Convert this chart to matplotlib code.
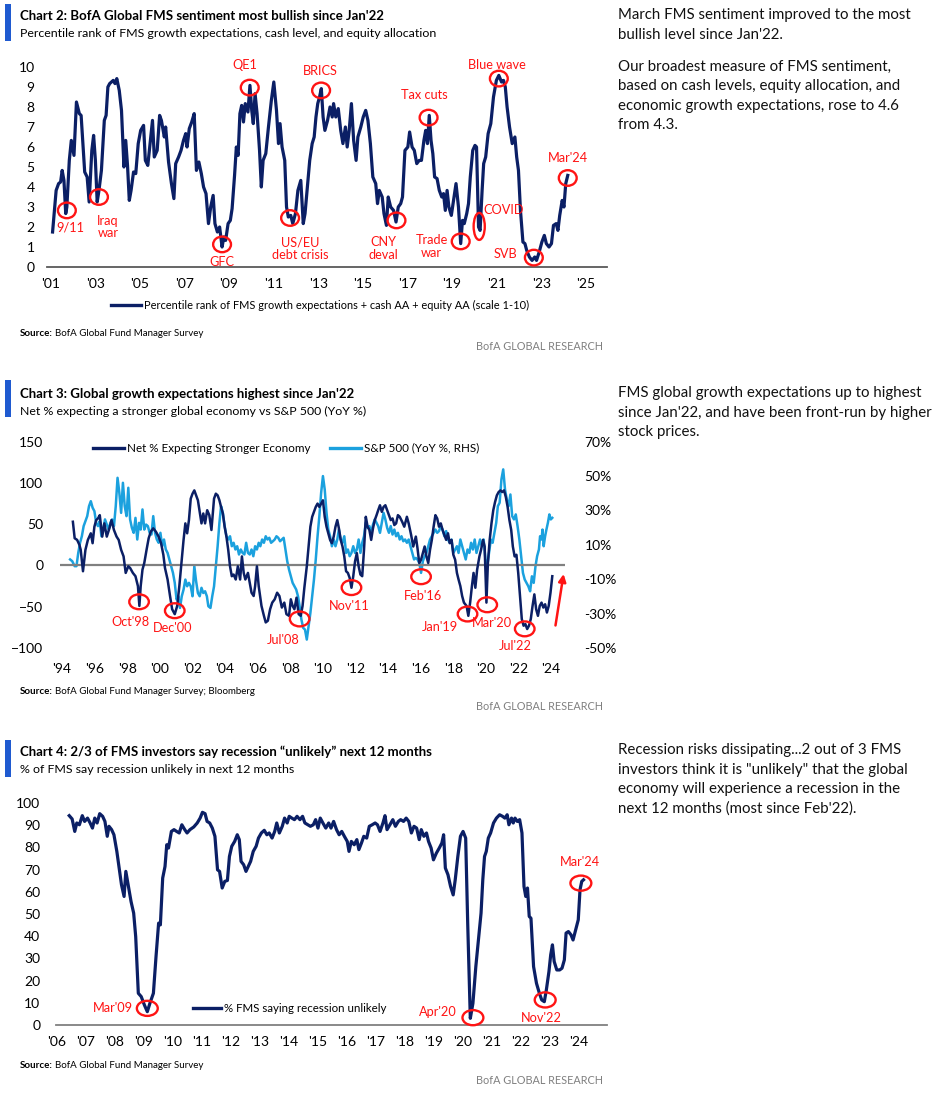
import matplotlib.pyplot as plt
from matplotlib.patches import Ellipse, Rectangle
from matplotlib.lines import Line2D

# ---------------- data ----------------
# Chart 2: FMS sentiment (scale 0-10)
sent_years = [2001.09, 2001.25, 2001.36, 2001.45, 2001.52, 2001.60, 2001.68, 2001.73, 2001.84, 2001.93,
              2002.05, 2002.16, 2002.29, 2002.37, 2002.53, 2002.64, 2002.73, 2002.85, 2002.93, 2003.01,
              2003.09, 2003.17, 2003.28, 2003.41, 2003.49, 2003.57, 2003.65, 2003.73, 2003.81, 2003.89,
              2003.97, 2004.08, 2004.18, 2004.29, 2004.37, 2004.45, 2004.53, 2004.61, 2004.72, 2004.82,
              2004.93, 2005.04, 2005.17, 2005.25, 2005.36, 2005.46, 2005.57, 2005.65, 2005.78, 2005.89,
              2005.97, 2006.10, 2006.16, 2006.29, 2006.42, 2006.53, 2006.61, 2006.74, 2006.85, 2006.96,
              2007.06, 2007.12, 2007.22, 2007.33, 2007.44, 2007.54, 2007.65, 2007.76, 2007.86, 2007.97,
              2008.08, 2008.18, 2008.29, 2008.37, 2008.48, 2008.58, 2008.69, 2008.77, 2008.85, 2008.96,
              2009.06, 2009.14, 2009.25, 2009.33, 2009.41, 2009.49, 2009.57, 2009.65, 2009.73, 2009.85,
              2009.94, 2010.02, 2010.09, 2010.17, 2010.26, 2010.37, 2010.45, 2010.53, 2010.65, 2010.77,
              2010.90, 2011.01, 2011.13, 2011.22, 2011.29, 2011.38, 2011.50, 2011.58, 2011.66, 2011.77,
              2011.86, 2011.98, 2012.09, 2012.22, 2012.33, 2012.41, 2012.50, 2012.62, 2012.73, 2012.82,
              2012.90, 2012.98, 2013.06, 2013.14, 2013.22, 2013.30, 2013.42, 2013.53, 2013.63, 2013.69,
              2013.79, 2013.90, 2014.01, 2014.11, 2014.22, 2014.30, 2014.39, 2014.49, 2014.59, 2014.70,
              2014.78, 2014.91, 2015.02, 2015.13, 2015.23, 2015.34, 2015.45, 2015.58, 2015.66, 2015.74,
              2015.87, 2015.95, 2016.06, 2016.14, 2016.25, 2016.38, 2016.49, 2016.59, 2016.70, 2016.78,
              2016.89, 2017.02, 2017.10, 2017.21, 2017.31, 2017.42, 2017.53, 2017.63, 2017.74, 2017.82,
              2017.90, 2017.98, 2018.06, 2018.14, 2018.22, 2018.33, 2018.43, 2018.54, 2018.62, 2018.70,
              2018.78, 2018.86, 2018.97, 2019.07, 2019.18, 2019.29, 2019.39, 2019.47, 2019.55, 2019.66,
              2019.74, 2019.82, 2019.93, 2020.03, 2020.10, 2020.19, 2020.26, 2020.35, 2020.42, 2020.51,
              2020.62, 2020.74, 2020.86, 2020.99, 2021.10, 2021.22, 2021.31, 2021.39, 2021.47, 2021.58,
              2021.70, 2021.82, 2021.90, 2021.98, 2022.07, 2022.18, 2022.27, 2022.35, 2022.47, 2022.59,
              2022.71, 2022.79, 2022.91, 2023.03, 2023.14, 2023.23, 2023.35, 2023.46, 2023.55, 2023.67,
              2023.75, 2023.83, 2023.94, 2024.02, 2024.10, 2024.19]
sent_vals = [1.75, 3.83, 4.17, 4.25, 4.83, 4.33, 2.67, 3.0, 5.33, 6.33,
             5.58, 8.25, 7.67, 7.58, 4.75, 4.5, 3.25, 5.83, 6.58, 5.33,
             3.25, 3.83, 4.83, 7.33, 7.58, 9.0, 9.17, 9.25, 9.33, 9.17,
             9.42, 8.83, 7.83, 5.0, 6.33, 5.08, 3.33, 3.83, 4.75, 4.67,
             6.17, 6.83, 7.08, 5.33, 5.08, 6.17, 7.33, 5.5, 5.83, 7.58,
             7.33, 6.5, 7.0, 5.25, 4.17, 3.42, 5.17, 5.5, 5.83, 6.33,
             6.67, 6.0, 6.92, 7.25, 7.67, 4.83, 5.25, 4.67, 4.0, 3.67,
             2.17, 3.0, 3.58, 2.17, 1.75, 2.0, 1.0, 1.5, 1.33, 2.17,
             2.33, 2.92, 4.58, 6.0, 5.58, 7.67, 8.08, 7.25, 8.17, 7.75,
             9.08, 7.83, 7.17, 8.67, 7.67, 5.83, 4.0, 5.33, 5.67, 7.0,
             8.33, 9.25, 7.83, 6.17, 7.17, 6.0, 5.33, 3.0, 2.5, 2.58,
             2.17, 2.67, 3.83, 4.33, 2.17, 2.67, 3.83, 5.33, 6.17, 6.5,
             7.5, 8.17, 8.5, 8.92, 7.5, 6.83, 7.33, 8.0, 7.5, 8.17,
             7.5, 7.92, 6.83, 6.17, 7.0, 6.0, 6.83, 8.17, 6.33, 5.33,
             6.5, 7.0, 7.5, 7.83, 7.33, 6.17, 4.5, 4.17, 3.17, 3.83,
             3.5, 2.67, 2.08, 3.5, 3.0, 2.83, 2.25, 3.0, 3.17, 3.5,
             5.83, 6.0, 6.75, 6.0, 5.83, 5.17, 5.33, 5.33, 6.33, 6.83,
             6.17, 7.58, 6.33, 5.67, 4.5, 4.42, 3.83, 3.5, 3.67, 2.83,
             3.83, 3.0, 2.58, 3.33, 4.17, 3.0, 1.17, 2.33, 2.17, 2.67,
             3.17, 4.5, 5.83, 6.08, 6.0, 2.0, 1.83, 3.83, 5.17, 5.5,
             6.67, 7.17, 8.5, 9.33, 9.58, 9.25, 9.33, 9.0, 8.0, 7.0,
             6.17, 6.5, 5.5, 4.83, 2.83, 1.25, 1.17, 0.83, 0.5, 0.33,
             0.5, 0.33, 0.75, 1.25, 1.58, 1.17, 1.0, 1.17, 2.08, 2.17,
             1.83, 2.58, 3.33, 3.0, 4.17, 4.58]
# label, circle x, circle y, label x, label y
sent_notes = [("9/11", 2001.73, 2.83, 2001.88, 1.97),
              ("Iraq\nwar", 2003.17, 3.5, 2003.57, 2.0),
              ("GFC", 2008.69, 1.13, 2008.69, 0.25),
              ("QE1", 2009.93, 8.97, 2009.73, 10.08),
              ("US/EU\ndebt crisis", 2011.74, 2.45, 2012.18, 0.93),
              ("BRICS", 2013.13, 8.83, 2013.10, 9.8),
              ("CNY\ndeval", 2016.51, 2.33, 2015.93, 0.93),
              ("Tax cuts", 2017.95, 7.47, 2017.74, 8.58),
              ("Trade\nwar", 2019.39, 1.28, 2018.09, 1.03),
              ("COVID", 2020.22, 2.03, 2021.31, 2.87),
              ("Blue wave", 2021.10, 9.42, 2021.02, 10.08),
              ("SVB", 2022.67, 0.47, 2021.38, 0.67),
              ("Mar'24", 2024.19, 4.45, 2024.19, 5.47)]

# Chart 3: net % expecting stronger economy (LHS) and S&P 500 YoY % (RHS)
growth_years = [1994.67, 1994.78, 1994.93, 1995.07, 1995.15, 1995.29, 1995.44, 1995.59, 1995.77, 1995.88,
                1995.99, 1996.10, 1996.21, 1996.32, 1996.47, 1996.60, 1996.75, 1996.91, 1997.04, 1997.19,
                1997.35, 1997.48, 1997.63, 1997.78, 1997.91, 1998.07, 1998.18, 1998.35, 1998.51, 1998.66,
                1998.75, 1998.83, 1998.94, 1999.05, 1999.19, 1999.32, 1999.45, 1999.60, 1999.76, 1999.93,
                2000.08, 2000.22, 2000.32, 2000.48, 2000.63, 2000.76, 2000.92, 2001.07, 2001.20, 2001.35,
                2001.46, 2001.57, 2001.68, 2001.79, 2001.90, 2002.01, 2002.12, 2002.23, 2002.34, 2002.45,
                2002.56, 2002.67, 2002.78, 2002.91, 2003.04, 2003.17, 2003.33, 2003.44, 2003.55, 2003.66,
                2003.76, 2003.87, 2003.98, 2004.09, 2004.20, 2004.31, 2004.42, 2004.53, 2004.66, 2004.79,
                2004.93, 2005.04, 2005.15, 2005.25, 2005.41, 2005.52, 2005.63, 2005.76, 2005.85, 2005.96,
                2006.07, 2006.24, 2006.39, 2006.50, 2006.63, 2006.77, 2006.90, 2007.05, 2007.20, 2007.34,
                2007.49, 2007.64, 2007.77, 2007.93, 2008.04, 2008.15, 2008.26, 2008.39, 2008.52, 2008.65,
                2008.76, 2008.87, 2009.02, 2009.13, 2009.24, 2009.35, 2009.46, 2009.57, 2009.68, 2009.79,
                2009.90, 2010.01, 2010.12, 2010.23, 2010.34, 2010.45, 2010.56, 2010.67, 2010.78, 2010.89,
                2010.99, 2011.10, 2011.21, 2011.32, 2011.43, 2011.54, 2011.65, 2011.76, 2011.87, 2011.98,
                2012.09, 2012.20, 2012.31, 2012.42, 2012.53, 2012.64, 2012.75, 2012.86, 2012.97, 2013.08,
                2013.19, 2013.30, 2013.40, 2013.51, 2013.62, 2013.73, 2013.84, 2013.95, 2014.06, 2014.17,
                2014.28, 2014.39, 2014.50, 2014.61, 2014.72, 2014.87, 2015.00, 2015.16, 2015.27, 2015.42,
                2015.55, 2015.71, 2015.81, 2015.92, 2016.03, 2016.14, 2016.25, 2016.36, 2016.47, 2016.58,
                2016.69, 2016.80, 2016.91, 2017.02, 2017.13, 2017.24, 2017.35, 2017.46, 2017.57, 2017.68,
                2017.79, 2017.90, 2018.01, 2018.12, 2018.23, 2018.33, 2018.44, 2018.55, 2018.66, 2018.82,
                2018.93, 2019.04, 2019.15, 2019.25, 2019.36, 2019.47, 2019.61, 2019.71, 2019.83, 2019.93,
                2020.04, 2020.13, 2020.24, 2020.35, 2020.46, 2020.57, 2020.68, 2020.79, 2020.90, 2021.01,
                2021.12, 2021.23, 2021.34, 2021.45, 2021.56, 2021.66, 2021.77, 2021.88, 2021.99, 2022.10,
                2022.21, 2022.32, 2022.43, 2022.54, 2022.65, 2022.76, 2022.87, 2022.98, 2023.09, 2023.20,
                2023.31, 2023.42, 2023.53, 2023.64, 2023.75, 2023.86, 2023.97, 2024.08]
growth_net = [53, 33, 31, 25, 19, -7, 19, 31, 39, 27,
              47, 55, 57, 61, 35, 51, 35, 45, 55, 43,
              35, 31, 19, 11, -9, -1, -3, -9, -13, -25,
              -49, -25, -5, 3, 19, 33, 41, 45, 41, 35,
              27, 13, -3, -17, -37, -53, -59, -49, -25, 7,
              31, 51, 39, 55, 81, 87, 91, 85, 79, 65,
              51, 63, 51, 67, 61, 43, 81, 87, 85, 79,
              71, 63, 47, 35, 19, -1, -13, -11, -17, -1,
              -17, 11, -9, -17, -9, -21, -33, -37, -25, -1,
              -25, -49, -61, -69, -67, -53, -45, -41, -33, -37,
              -51, -45, -59, -61, -41, -49, -53, -39, -59, -61,
              -49, -27, -1, 23, 47, 59, 65, 71, 75, 71,
              75, 79, 59, 47, 39, 31, 27, 35, 47, 55,
              45, 31, 23, 11, -7, -9, -15, -27, -13, 5,
              15, -1, -11, -13, 19, 59, 47, 43, 31, 45,
              55, 61, 67, 73, 65, 71, 73, 67, 61, 55,
              57, 49, 51, 61, 59, 53, 47, 59, 51, 37,
              23, 35, 21, 3, 7, 15, 23, 11, 3, 19,
              31, 47, 61, 57, 47, 51, 43, 37, 31, 39,
              27, 31, 13, 7, -9, -17, -25, -37, -45, -49,
              -61, -45, -25, -9, -27, -5, 11, 19, 31, 23,
              -45, 3, 31, 51, 67, 77, 85, 89, 91, 89,
              91, 83, 71, 55, 43, 23, 11, 13, -9, -37,
              -65, -73, -71, -77, -73, -65, -49, -35, -53, -61,
              -49, -45, -51, -47, -57, -49, -33, -13]
spx_years = [1994.50, 1994.63, 1994.78, 1994.89, 1995.00, 1995.11, 1995.22, 1995.33, 1995.44, 1995.55,
             1995.66, 1995.77, 1995.88, 1995.99, 1996.10, 1996.21, 1996.32, 1996.42, 1996.53, 1996.64,
             1996.75, 1996.86, 1996.97, 1997.08, 1997.19, 1997.30, 1997.41, 1997.52, 1997.63, 1997.74,
             1997.85, 1997.96, 1998.07, 1998.18, 1998.29, 1998.40, 1998.51, 1998.62, 1998.73, 1998.83,
             1998.94, 1999.05, 1999.16, 1999.27, 1999.38, 1999.49, 1999.60, 1999.71, 1999.82, 1999.93,
             2000.04, 2000.15, 2000.26, 2000.37, 2000.48, 2000.59, 2000.70, 2000.81, 2000.92, 2001.03,
             2001.14, 2001.24, 2001.35, 2001.46, 2001.57, 2001.68, 2001.79, 2001.90, 2002.01, 2002.12,
             2002.23, 2002.34, 2002.45, 2002.56, 2002.67, 2002.78, 2002.89, 2002.98, 2003.11, 2003.22,
             2003.33, 2003.44, 2003.55, 2003.66, 2003.76, 2003.87, 2003.98, 2004.09, 2004.20, 2004.31,
             2004.42, 2004.53, 2004.64, 2004.75, 2004.86, 2004.97, 2005.08, 2005.19, 2005.30, 2005.41,
             2005.52, 2005.63, 2005.74, 2005.85, 2005.96, 2006.07, 2006.17, 2006.28, 2006.39, 2006.50,
             2006.61, 2006.72, 2006.83, 2006.94, 2007.05, 2007.16, 2007.27, 2007.38, 2007.49, 2007.60,
             2007.71, 2007.82, 2007.93, 2008.04, 2008.15, 2008.26, 2008.37, 2008.48, 2008.58, 2008.69,
             2008.80, 2008.91, 2009.02, 2009.13, 2009.24, 2009.35, 2009.46, 2009.57, 2009.68, 2009.79,
             2009.90, 2010.01, 2010.12, 2010.23, 2010.34, 2010.45, 2010.56, 2010.67, 2010.78, 2010.89,
             2010.99, 2011.10, 2011.21, 2011.32, 2011.43, 2011.54, 2011.65, 2011.76, 2011.87, 2011.98,
             2012.09, 2012.20, 2012.31, 2012.42, 2012.53, 2012.64, 2012.75, 2012.86, 2012.97, 2013.08,
             2013.19, 2013.30, 2013.40, 2013.51, 2013.62, 2013.73, 2013.84, 2013.95, 2014.06, 2014.17,
             2014.28, 2014.39, 2014.50, 2014.61, 2014.72, 2014.83, 2014.94, 2015.05, 2015.16, 2015.27,
             2015.38, 2015.49, 2015.60, 2015.71, 2015.81, 2015.92, 2016.03, 2016.14, 2016.25, 2016.36,
             2016.47, 2016.58, 2016.69, 2016.80, 2016.91, 2017.02, 2017.13, 2017.24, 2017.35, 2017.46,
             2017.57, 2017.68, 2017.79, 2017.90, 2018.01, 2018.12, 2018.23, 2018.33, 2018.44, 2018.55,
             2018.66, 2018.77, 2018.88, 2018.99, 2019.10, 2019.21, 2019.32, 2019.43, 2019.54, 2019.65,
             2019.76, 2019.87, 2019.98, 2020.09, 2020.20, 2020.31, 2020.42, 2020.53, 2020.64, 2020.74,
             2020.85, 2020.96, 2021.07, 2021.18, 2021.29, 2021.40, 2021.51, 2021.62, 2021.73, 2021.84,
             2021.95, 2022.06, 2022.17, 2022.28, 2022.39, 2022.50, 2022.61, 2022.72, 2022.83, 2022.94,
             2023.05, 2023.15, 2023.26, 2023.33, 2023.42, 2023.48, 2023.55, 2023.64, 2023.72, 2023.81,
             2023.90, 2023.99, 2024.08]
spx_yoy = [1.5, 0.5, -2.4, -2.4, 5.3, 11.2, 15.0, 20.9, 23.8, 26.7,
           32.5, 35.4, 31.6, 29.6, 22.8, 20.9, 23.8, 15.0, 18.9, 24.8,
           21.8, 18.9, 22.8, 24.8, 20.9, 32.5, 49.0, 40.3, 28.6, 46.1,
           32.5, 26.7, 43.2, 24.8, 19.9, 17.0, 25.7, 13.1, 22.8, 18.9,
           30.6, 18.9, 21.8, 20.9, 17.0, 16.0, 26.7, 17.0, 13.1, 11.2,
           17.0, 9.2, 13.1, 7.3, 5.3, 1.5, -2.4, -6.3, -12.1, -21.8,
           -19.9, -26.7, -19.9, -16.0, -10.2, -14.1, -12.1, -14.1, -19.9, -2.4,
           -11.2, -18.0, -19.9, -15.0, -18.0, -17.0, -19.9, -25.7, -26.7, -19.9,
           -14.1, -2.4, 9.2, 22.8, 32.5, 28.6, 20.9, 15.0, 13.1, 15.0,
           9.2, 11.2, 7.3, 9.2, 4.4, 7.3, 5.3, 4.4, 11.2, 5.3,
           4.4, 7.3, 3.4, 9.2, 7.3, 11.2, 9.2, 13.1, 11.2, 15.0,
           13.1, 14.1, 11.2, 12.1, 13.1, 15.0, 14.1, 12.1, 13.1, 14.1,
           7.3, 0.5, -4.4, -8.3, -12.1, -14.1, -16.0, -19.9, -25.7, -33.5,
           -38.3, -39.3, -45.1, -37.4, -29.6, -19.9, -10.2, 1.5, 15.0, 26.7,
           40.3, 50.0, 42.2, 28.6, 18.9, 15.0, 9.2, 13.1, 9.2, 13.1,
           18.9, 13.1, 11.2, 15.0, 5.3, 7.3, 3.4, 5.3, 9.2, 5.3,
           7.3, 13.1, 5.3, 11.2, 15.0, 22.8, 19.9, 20.9, 17.0, 21.8,
           24.8, 22.8, 20.9, 17.0, 22.8, 28.6, 24.8, 19.9, 17.0, 20.9,
           16.0, 18.9, 15.0, 17.0, 13.1, 15.0, 12.1, 13.1, 11.2, 13.1,
           9.2, 5.3, 1.5, 2.4, 1.5, -0.5, -6.3, 0.5, 3.4, 5.3,
           9.2, 13.1, 15.0, 17.0, 18.9, 17.0, 18.0, 20.9, 18.9, 15.0,
           18.0, 13.1, 11.2, 13.1, 5.3, 7.3, 9.2, 5.3, 13.1, 9.2,
           5.3, 1.5, 7.3, 5.3, 11.2, 7.3, 13.1, 5.3, 9.2, 13.1,
           9.2, 13.1, 1.5, -2.4, 5.3, 13.1, 11.2, 17.0, 22.8, 32.5,
           34.5, 48.1, 53.9, 42.2, 36.4, 32.5, 39.3, 26.7, 24.8, 27.7,
           20.9, 13.1, 3.4, -6.3, -10.2, -12.1, -14.1, -17.0, -8.3, -12.1,
           -2.4, 3.4, 7.3, 15.0, 13.1, 18.9, 9.2, 15.0, 18.9, 22.8,
           27.7, 24.8, 25.7]
growth_notes = [("Oct'98", 1998.73, -44, 1998.18, -68.8),
                ("Dec'00", 2000.92, -54.8, 2000.76, -76),
                ("Jul'08", 2008.58, -64.8, 2007.60, -90.8),
                ("Nov'11", 2011.76, -26.8, 2011.65, -48.8),
                ("Feb'16", 2016.03, -13.6, 2016.14, -36.8),
                ("Jan'19", 2018.88, -58.8, 2017.20, -74.8),
                ("Mar'20", 2020.09, -47.6, 2020.35, -70),
                ("Jul'22", 2022.39, -76.8, 2021.84, -97.6)]

# Chart 4: % of FMS saying recession unlikely
rec_years = [2006.44, 2006.54, 2006.63, 2006.70, 2006.79, 2006.89, 2006.97, 2007.07, 2007.16, 2007.24,
             2007.32, 2007.40, 2007.49, 2007.59, 2007.67, 2007.75, 2007.81, 2007.90, 2007.98, 2008.08,
             2008.17, 2008.24, 2008.33, 2008.39, 2008.47, 2008.57, 2008.66, 2008.73, 2008.82, 2008.92,
             2009.03, 2009.13, 2009.22, 2009.34, 2009.43, 2009.52, 2009.58, 2009.66, 2009.74, 2009.80,
             2009.86, 2009.96, 2010.05, 2010.14, 2010.23, 2010.32, 2010.42, 2010.50, 2010.60, 2010.73,
             2010.85, 2010.95, 2011.03, 2011.12, 2011.19, 2011.28, 2011.37, 2011.46, 2011.55, 2011.62,
             2011.71, 2011.80, 2011.89, 2011.96, 2012.04, 2012.14, 2012.23, 2012.30, 2012.36, 2012.45,
             2012.53, 2012.61, 2012.69, 2012.78, 2012.88, 2012.96, 2013.06, 2013.16, 2013.25, 2013.33,
             2013.43, 2013.52, 2013.59, 2013.68, 2013.78, 2013.86, 2013.95, 2014.02, 2014.11, 2014.20,
             2014.29, 2014.39, 2014.48, 2014.56, 2014.66, 2014.75, 2014.85, 2014.93, 2015.01, 2015.09,
             2015.18, 2015.28, 2015.38, 2015.46, 2015.55, 2015.65, 2015.74, 2015.83, 2015.92, 2016.02,
             2016.08, 2016.16, 2016.26, 2016.35, 2016.42, 2016.51, 2016.59, 2016.69, 2016.78, 2016.88,
             2016.98, 2017.06, 2017.15, 2017.25, 2017.32, 2017.39, 2017.49, 2017.59, 2017.68, 2017.78,
             2017.86, 2017.96, 2018.05, 2018.14, 2018.23, 2018.32, 2018.41, 2018.50, 2018.57, 2018.66,
             2018.75, 2018.82, 2018.91, 2018.99, 2019.09, 2019.19, 2019.28, 2019.34, 2019.40, 2019.49,
             2019.58, 2019.67, 2019.74, 2019.83, 2019.92, 2020.01, 2020.10, 2020.17, 2020.26, 2020.35,
             2020.45, 2020.54, 2020.63, 2020.69, 2020.75, 2020.81, 2020.88, 2020.96, 2021.06, 2021.16,
             2021.27, 2021.37, 2021.45, 2021.53, 2021.59, 2021.68, 2021.74, 2021.80, 2021.88, 2021.96,
             2022.04, 2022.11, 2022.17, 2022.23, 2022.29, 2022.35, 2022.44, 2022.54, 2022.64, 2022.72,
             2022.81, 2022.88, 2022.97, 2023.03, 2023.09, 2023.15, 2023.24, 2023.34, 2023.42, 2023.50,
             2023.56, 2023.64, 2023.73, 2023.80, 2023.89, 2023.98, 2024.04, 2024.10, 2024.16]
rec_unlikely = [94.3, 92.8, 87.2, 91.0, 90.2, 94.3, 91.7, 93.2, 91.0, 88.7,
                93.2, 91.0, 95.2, 94.0, 91.7, 85.0, 89.5, 88.0, 85.7, 78.2,
                69.9, 63.2, 57.9, 69.2, 63.2, 55.6, 50.4, 39.8, 14.3, 12.8,
                9.0, 6.0, 9.8, 14.3, 30.8, 45.9, 45.1, 66.2, 71.4, 81.2,
                79.7, 87.2, 88.0, 87.2, 86.5, 90.2, 88.0, 86.5, 88.0, 89.2,
                91.0, 93.2, 95.8, 95.2, 91.7, 91.0, 88.7, 85.0, 69.9, 69.2,
                61.7, 64.7, 65.1, 75.9, 80.5, 82.7, 85.7, 83.5, 73.7, 72.2,
                69.2, 71.4, 73.7, 78.2, 80.5, 84.2, 86.5, 87.7, 85.7, 86.5,
                84.2, 87.2, 91.0, 86.5, 89.5, 93.2, 91.0, 94.0, 93.2, 92.5,
                94.0, 92.5, 94.0, 91.0, 90.2, 89.5, 90.2, 92.5, 88.7, 93.2,
                91.0, 88.7, 91.0, 88.7, 91.7, 88.0, 85.7, 87.2, 85.0, 82.7,
                78.2, 82.7, 81.2, 83.5, 79.0, 82.0, 85.0, 84.2, 89.5, 90.2,
                91.0, 90.2, 87.2, 91.0, 94.3, 88.0, 90.2, 92.5, 89.5, 91.7,
                92.5, 91.7, 93.2, 91.7, 86.5, 89.5, 88.7, 83.5, 88.0, 85.0,
                86.5, 82.7, 79.7, 74.4, 77.4, 79.7, 82.0, 85.7, 70.7, 67.7,
                62.4, 58.6, 65.4, 75.9, 85.0, 87.2, 84.2, 45.9, 3.0, 9.8,
                26.3, 38.3, 50.4, 65.4, 75.9, 78.2, 84.2, 86.5, 91.0, 93.2,
                94.7, 94.0, 93.2, 94.7, 90.2, 93.2, 91.0, 93.2, 91.7, 92.5,
                86.5, 62.4, 57.9, 61.7, 48.9, 48.1, 26.3, 18.8, 14.3, 11.3,
                10.5, 15.8, 24.1, 31.6, 36.1, 28.6, 24.8, 24.8, 25.6, 29.3,
                41.4, 42.1, 40.6, 38.3, 42.9, 47.4, 60.9, 64.7, 65.4]
rec_notes = [("Mar'09", 2009.13, 7.5, 2007.96, 7.5),
             ("Apr'20", 2020.35, 3.3, 2019.15, 6.0),
             ("Nov'22", 2022.84, 11.3, 2022.72, 3.3),
             ("Mar'24", 2024.07, 63.9, 2024.04, 73.2)]

side_notes = [
    (["March FMS sentiment improved to the most", "bullish level since Jan'22."], 19.5),
    (["Our broadest measure of FMS sentiment,", "based on cash levels, equity allocation, and",
      "economic growth expectations, rose to 4.6", "from 4.3."], 70.5),
    (["FMS global growth expectations up to highest", "since Jan'22, and have been front-run by higher",
      "stock prices."], 397),
    (["Recession risks dissipating...2 out of 3 FMS", "investors think it is \"unlikely\" that the global",
      "economy will experience a recession in the", "next 12 months (most since Feb'22)."], 754),
]

# ---------------- styling ----------------
W, H = 936, 1100
NAVY = "#0B1F65"
LIGHT = "#1BA1DE"
RED = "#FF1414"
BAR = "#1F5AD0"
FONT = ["Lato", "DejaVu Sans"]

fig = plt.figure(figsize=(W / 100, H / 100), dpi=100)
fig.patch.set_facecolor("white")


def add_axes_px(left, top, right, bottom):
    return fig.add_axes([left / W, 1 - bottom / H, (right - left) / W, (bottom - top) / H])


def ftext(x, y, s, **kw):
    return fig.text(x / W, 1 - y / H, s, **kw)


def header(top, title, subtitle, tb, sb):
    fig.add_artist(Rectangle((5 / W, 1 - (top + 37) / H), 6 / W, 37 / H,
                             transform=fig.transFigure, color=BAR, lw=0))
    ftext(19.5, tb, title, family=FONT, weight="bold", fontsize=9.5, va="baseline")
    ftext(19.5, sb, subtitle, family=FONT, fontsize=8.9, va="baseline")


def footer(y_src, y_res, source):
    t = ftext(20, y_src, "Source:", family=FONT, weight="bold", fontsize=7.0, va="center")
    bb = t.get_window_extent(fig.canvas.get_renderer())
    fig.text(bb.x1 / W + 2 / W, 1 - y_src / H, source, family=FONT, fontsize=7.0, va="center")
    ftext(603, y_res, "BofA GLOBAL RESEARCH", family=FONT, fontsize=7.8, color="#808080",
          ha="right", va="center")


def legend_px(x0, x1, y, color, label, size=8.4):
    fig.add_artist(Line2D([x0 / W, x1 / W], [1 - y / H, 1 - y / H], transform=fig.transFigure,
                          color=color, lw=2.4))
    ftext(x1 + 3, y, label, family=FONT, fontsize=size, va="center")


def style_axis(ax):
    for s in ax.spines.values():
        s.set_visible(False)
    ax.tick_params(length=0, labelsize=10)
    for lab in ax.get_xticklabels() + ax.get_yticklabels():
        lab.set_family(FONT)


def add_notes(ax, notes, w, h, size=9.2):
    for label, cx, cy, tx, ty in notes:
        ew, eh = (0.5, 1.35) if label == "COVID" else (w, h)
        ax.add_patch(Ellipse((cx, cy), ew, eh, fill=False, ec=RED, lw=1.7, clip_on=False, zorder=5))
        ax.text(tx, ty, label, color=RED, ha="center", va="center", family=FONT,
                fontsize=size, linespacing=1.05, clip_on=False, zorder=6)


# ---------------- Chart 2 ----------------
header(4, "Chart 2: BofA Global FMS sentiment most bullish since Jan'22",
       "Percentile rank of FMS growth expectations, cash level, and equity allocation", 20.5, 37.3)
ax2 = add_axes_px(47, 60, 607, 267)
ax2.plot(sent_years, sent_vals, color=NAVY, lw=2.3, solid_joinstyle="round")
ax2.set_xlim(2000.84, 2025.95)
ax2.set_ylim(0, 10.35)
ax2.set_yticks(range(0, 11))
ax2.set_xticks(range(2001, 2026, 2))
ax2.set_xticklabels([f"'{y % 100:02d}" for y in range(2001, 2026, 2)])
style_axis(ax2)
ax2.spines["bottom"].set_visible(True)
ax2.spines["bottom"].set_color("#595959")
ax2.spines["bottom"].set_linewidth(1.3)
ax2.tick_params(axis="y", pad=9)
ax2.tick_params(axis="x", pad=8)
add_notes(ax2, sent_notes, 0.8, 0.78)
legend_px(111, 141, 305, NAVY,
          "Percentile rank of FMS growth expectations + cash AA + equity AA (scale 1-10)", size=7.9)
footer(333, 347, "BofA Global Fund Manager Survey")

# ---------------- Chart 3 ----------------
header(380, "Chart 3: Global growth expectations highest since Jan'22",
       "Net % expecting a stronger global economy vs S&P 500 (YoY %)", 398, 415)
ax3 = add_axes_px(60, 441.7, 565, 648)
ax3r = ax3.twinx()
ax3.axhline(0, color="#808080", lw=1.6, zorder=1)
ax3.plot(growth_years, growth_net, color=NAVY, lw=1.8, zorder=3, solid_joinstyle="round")
ax3r.plot(spx_years, spx_yoy, color=LIGHT, lw=1.8, zorder=2, solid_joinstyle="round")
ax3.set_zorder(ax3r.get_zorder() + 1)
ax3.patch.set_visible(False)
ax3.set_xlim(1993.88, 2024.86)
ax3.set_ylim(-100, 150)
ax3r.set_ylim(-50, 70)
ax3.set_yticks(range(-100, 151, 50))
ax3r.set_yticks(range(-50, 71, 20))
ax3r.set_yticklabels([f"{v}%" for v in range(-50, 71, 20)])
ax3.set_xticks(range(1994, 2025, 2))
ax3.set_xticklabels([f"'{y % 100:02d}" for y in range(1994, 2025, 2)])
style_axis(ax3)
style_axis(ax3r)
ax3.tick_params(axis="y", pad=12)
ax3r.tick_params(axis="y", pad=14)
ax3.tick_params(axis="x", pad=11)
add_notes(ax3, growth_notes, 1.2, 18)
ax3.annotate("", xy=(2024.8, -7), xytext=(2024.25, -76),
             arrowprops=dict(arrowstyle="-|>", color=RED, lw=1.8, mutation_scale=11),
             annotation_clip=False)
legend_px(93, 124, 448, NAVY, "Net % Expecting Stronger Economy")
legend_px(330, 361, 448, LIGHT, "S&P 500 (YoY %, RHS)")
footer(691, 706, "BofA Global Fund Manager Survey; Bloomberg")

# ---------------- Chart 4 ----------------
header(740, "Chart 4: 2/3 of FMS investors say recession \u201cunlikely\u201d next 12 months",
       "% of FMS say recession unlikely in next 12 months", 756, 772.7)
ax4 = add_axes_px(55.6, 803, 607, 1025)
ax4.plot(rec_years, rec_unlikely, color=NAVY, lw=2.3, solid_joinstyle="round")
ax4.set_xlim(2005.97, 2024.97)
ax4.set_ylim(0, 100)
ax4.set_yticks(range(0, 101, 10))
ax4.set_xticks(range(2006, 2025))
ax4.set_xticklabels([f"'{y % 100:02d}" for y in range(2006, 2025)])
style_axis(ax4)
ax4.spines["bottom"].set_visible(True)
ax4.spines["bottom"].set_color("#808080")
ax4.spines["bottom"].set_linewidth(1.3)
ax4.tick_params(axis="y", pad=11)
ax4.tick_params(axis="x", pad=8)
add_notes(ax4, rec_notes, 0.72, 6.8)
legend_px(193, 221, 1008, NAVY, "% FMS saying recession unlikely", size=8.3)
footer(1066, 1080, "BofA Global Fund Manager Survey")

# ---------------- commentary on the right ----------------
for lines, base in side_notes:
    for i, line in enumerate(lines):
        ftext(618, base + i * 19.6, line, family=FONT, fontsize=10.8, va="baseline", color="#111111")

fig.savefig("out.png", dpi=100)
